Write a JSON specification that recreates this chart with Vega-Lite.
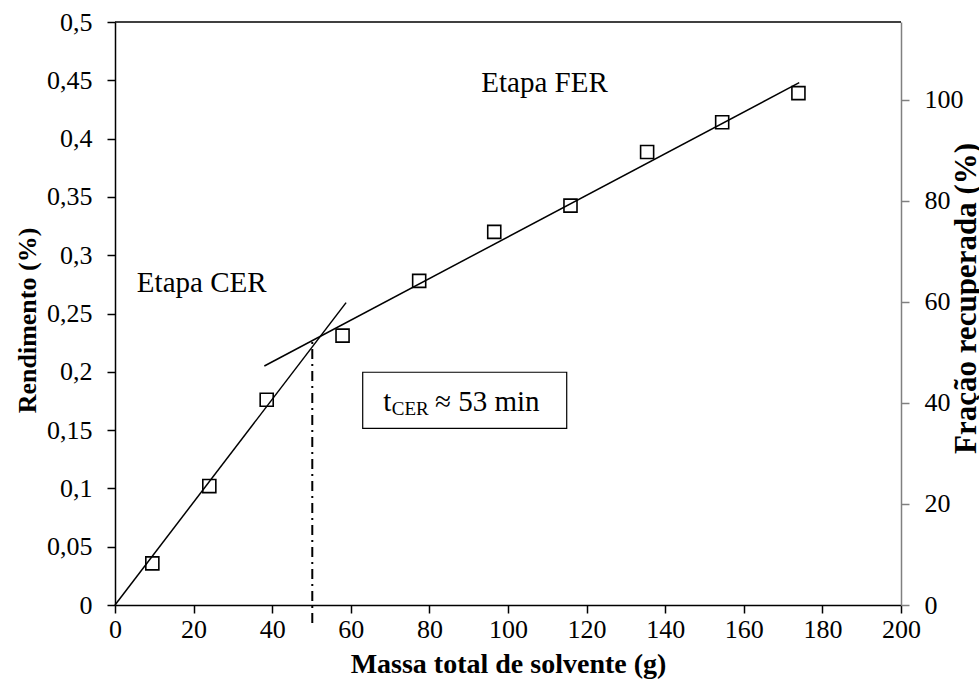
{
  "$schema": "https://vega.github.io/schema/vega-lite/v6.json",
  "width": 786,
  "height": 583,
  "autosize": {"type": "none"},
  "padding": {"left": 115, "top": 22, "right": 78, "bottom": 83},
  "background": "white",
  "config": {
    "view": {"stroke": null},
    "font": "Liberation Serif, Times New Roman, Times, serif",
    "axis": {
      "grid": false,
      "labelFont": "Liberation Serif, Times New Roman, Times, serif",
      "labelFontSize": 26,
      "labelColor": "black",
      "titleFont": "Liberation Serif, Times New Roman, Times, serif",
      "titleFontSize": 26,
      "titleFontWeight": "bold",
      "titleColor": "black",
      "domainColor": "black",
      "domainWidth": 1.5,
      "tickColor": "black",
      "tickWidth": 1.5,
      "tickSize": 8
    }
  },
  "datasets": {
    "pts": [
      {"x": 9.5, "y": 0.0357},
      {"x": 24.0, "y": 0.102},
      {"x": 38.6, "y": 0.176},
      {"x": 57.9, "y": 0.231},
      {"x": 77.4, "y": 0.278},
      {"x": 96.5, "y": 0.320},
      {"x": 115.9, "y": 0.3425},
      {"x": 135.4, "y": 0.3885},
      {"x": 154.5, "y": 0.414},
      {"x": 173.9, "y": 0.439}
    ],
    "fits": [
      {"seg": "CER", "x": 0, "y": 0},
      {"seg": "CER", "x": 58.8, "y": 0.2593},
      {"seg": "FER", "x": 38.0, "y": 0.205},
      {"seg": "FER", "x": 174.1, "y": 0.448}
    ]
  },
  "layer": [
    {
      "layer": [
        {
          "data": {"values": [{"x": 0, "x2": 200, "y": 0.5}]},
          "mark": {"type": "rule", "color": "black", "strokeWidth": 1.5},
          "encoding": {
            "x": {
              "field": "x", "type": "quantitative",
              "scale": {"domain": [0, 200], "nice": false, "zero": false},
              "axis": {
                "title": "Massa total de solvente (g)",
                "titleFontSize": 28,
                "values": [0, 20, 40, 60, 80, 100, 120, 140, 160, 180, 200],
                "labelPadding": 3,
                "labelFlush": false,
                "labelOverlap": false,
                "titleX": 393,
                "titleY": 59,
                "titleBaseline": "middle",
                "titleAlign": "center"
              }
            },
            "x2": {"field": "x2"},
            "y": {
              "field": "y", "type": "quantitative",
              "scale": {"domain": [0, 0.5], "nice": false, "zero": false},
              "axis": {
                "title": "Rendimento (%)",
                "values": [0, 0.05, 0.1, 0.15, 0.2, 0.25, 0.3, 0.35, 0.4, 0.45, 0.5],
                "labelExpr": "replace(format(datum.value, '~g'), '.', ',')",
                "labelPadding": 15,
                "labelFlush": false,
                "labelOverlap": false,
                "titleAngle": 270,
                "titleX": -88,
                "titleY": 298,
                "titleBaseline": "middle",
                "titleAlign": "center"
              }
            }
          }
        },
        {
          "data": {"name": "fits"},
          "mark": {"type": "line", "color": "black", "strokeWidth": 1.5},
          "encoding": {
            "x": {"field": "x", "type": "quantitative"},
            "y": {"field": "y", "type": "quantitative"},
            "detail": {"field": "seg"}
          }
        },
        {
          "data": {"values": [{"x": 50.2, "y": -0.0154, "y2": 0.229}]},
          "mark": {"type": "rule", "color": "black", "strokeWidth": 2, "strokeDash": [10, 5, 2, 5]},
          "encoding": {
            "x": {"field": "x", "type": "quantitative"},
            "y": {"field": "y", "type": "quantitative"},
            "y2": {"field": "y2"}
          }
        },
        {
          "data": {"name": "pts"},
          "mark": {"type": "point", "shape": "square", "size": 170, "filled": false, "color": "black", "strokeWidth": 1.6, "opacity": 1},
          "encoding": {
            "x": {"field": "x", "type": "quantitative"},
            "y": {"field": "y", "type": "quantitative"}
          }
        },
        {
          "data": {"values": [{"x": 63.03, "x2": 114.94, "y": 0.1515, "y2": 0.1996}]},
          "mark": {"type": "rect", "fill": "white", "stroke": "black", "strokeWidth": 1.2},
          "encoding": {
            "x": {"field": "x", "type": "quantitative"},
            "x2": {"field": "x2"},
            "y": {"field": "y", "type": "quantitative"},
            "y2": {"field": "y2"}
          }
        },
        {
          "data": {"values": [
            {"x": 109.3, "y": 0.4477, "label": "Etapa FER"},
            {"x": 22.06, "y": 0.2762, "label": "Etapa CER"}
          ]},
          "mark": {"type": "text", "font": "Liberation Serif, Times New Roman, Times, serif", "fontSize": 29, "color": "black", "align": "center", "baseline": "middle"},
          "encoding": {
            "x": {"field": "x", "type": "quantitative"},
            "y": {"field": "y", "type": "quantitative"},
            "text": {"field": "label"}
          }
        },
        {
          "data": {"values": [
            {"x": 68.27, "y": 0.1666, "label": "t"},
            {"x": 81.42, "y": 0.1666, "label": "≈ 53 min"}
          ]},
          "mark": {"type": "text", "font": "Liberation Serif, Times New Roman, Times, serif", "fontSize": 29, "color": "black", "align": "left", "baseline": "alphabetic"},
          "encoding": {
            "x": {"field": "x", "type": "quantitative"},
            "y": {"field": "y", "type": "quantitative"},
            "text": {"field": "label"}
          }
        },
        {
          "data": {"values": [
            {"x": 70.41, "y": 0.163, "label": "CER"}
          ]},
          "mark": {"type": "text", "font": "Liberation Serif, Times New Roman, Times, serif", "fontSize": 19, "color": "black", "align": "left", "baseline": "alphabetic"},
          "encoding": {
            "x": {"field": "x", "type": "quantitative"},
            "y": {"field": "y", "type": "quantitative"},
            "text": {"field": "label"}
          }
        }
      ]
    },
    {
      "data": {"values": [{"x": 0, "f": 0}, {"x": 0, "f": 115.4}]},
      "mark": {"type": "point", "opacity": 0},
      "encoding": {
        "x": {"field": "x", "type": "quantitative"},
        "y": {
          "field": "f", "type": "quantitative",
          "scale": {"domain": [0, 115.4], "nice": false, "zero": false},
          "axis": {
            "orient": "right",
            "title": "Fração recuperada (%)",
            "titleFontSize": 31,
            "values": [0, 20, 40, 60, 80, 100],
            "domainColor": "#808080",
            "tickColor": "#808080",
            "labelPadding": 15,
            "labelFlush": false,
            "labelOverlap": false,
            "titleAngle": 270,
            "titleX": 65,
            "titleY": 276,
            "titleBaseline": "middle",
            "titleAlign": "center"
          }
        }
      }
    }
  ],
  "resolve": {"scale": {"y": "independent"}}
}
